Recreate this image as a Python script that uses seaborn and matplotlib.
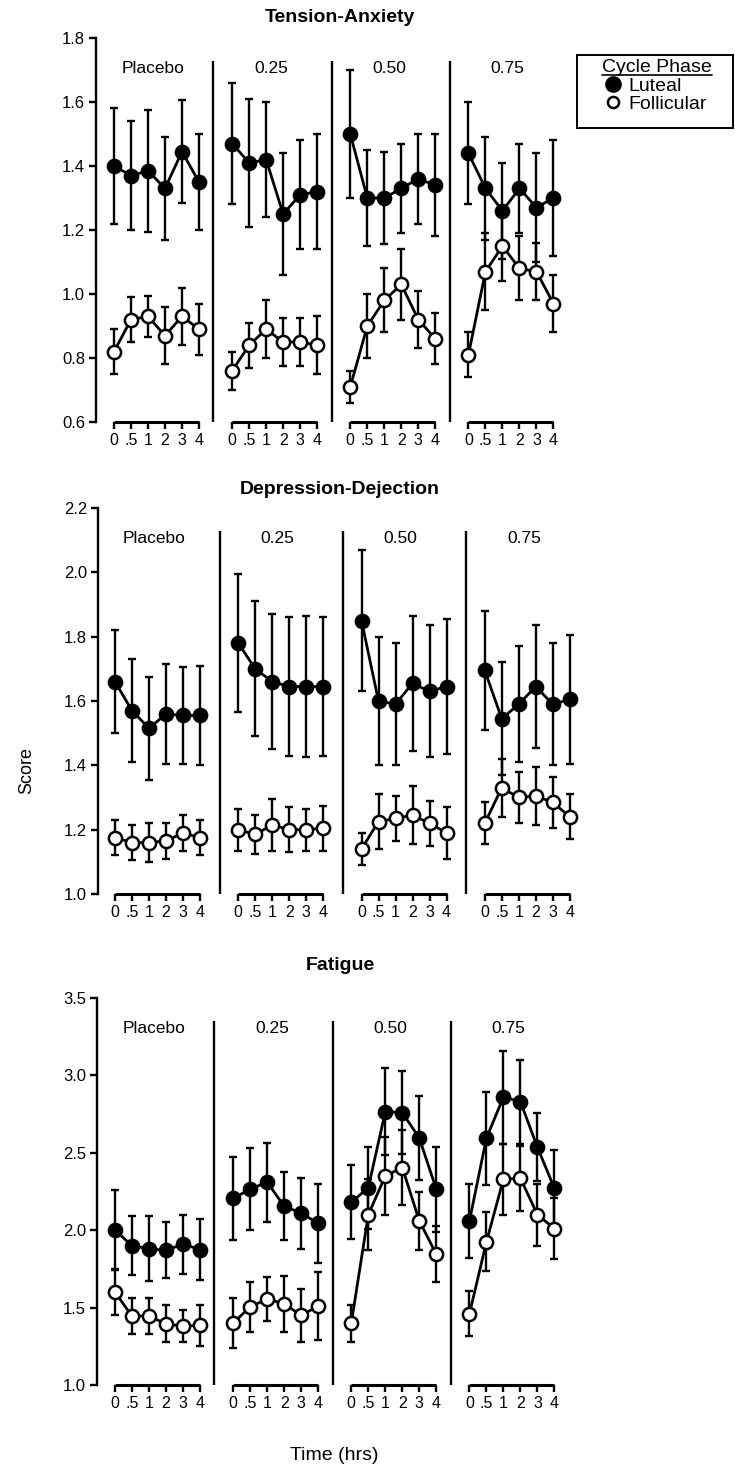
import matplotlib.pyplot as plt
import numpy as np
import pandas as pd
import seaborn as sns
from matplotlib.lines import Line2D
from matplotlib.patches import Rectangle

# time points after dosing (hrs) and dose conditions
time_labels = ["0", ".5", "1", "2", "3", "4"]
doses = ["Placebo", "0.25", "0.50", "0.75"]

# Tension-Anxiety
tension_luteal = [[1.40, 1.37, 1.385, 1.33, 1.445, 1.35],
                  [1.47, 1.41, 1.42, 1.25, 1.31, 1.32],
                  [1.50, 1.30, 1.30, 1.33, 1.36, 1.34],
                  [1.44, 1.33, 1.26, 1.33, 1.27, 1.30]]
tension_luteal_err = [[0.18, 0.17, 0.19, 0.16, 0.16, 0.15],
                      [0.19, 0.20, 0.18, 0.19, 0.17, 0.18],
                      [0.20, 0.15, 0.145, 0.14, 0.14, 0.16],
                      [0.16, 0.16, 0.15, 0.14, 0.17, 0.18]]
tension_follic = [[0.82, 0.92, 0.93, 0.87, 0.93, 0.89],
                  [0.76, 0.84, 0.89, 0.85, 0.85, 0.84],
                  [0.71, 0.90, 0.98, 1.03, 0.92, 0.86],
                  [0.81, 1.07, 1.15, 1.08, 1.07, 0.97]]
tension_follic_err = [[0.07, 0.07, 0.065, 0.09, 0.09, 0.08],
                      [0.06, 0.07, 0.09, 0.075, 0.075, 0.09],
                      [0.05, 0.10, 0.10, 0.11, 0.09, 0.08],
                      [0.07, 0.12, 0.11, 0.10, 0.09, 0.09]]

# Depression-Dejection
depress_luteal = [[1.66, 1.57, 1.515, 1.56, 1.555, 1.555],
                  [1.78, 1.70, 1.66, 1.645, 1.645, 1.645],
                  [1.85, 1.60, 1.59, 1.655, 1.63, 1.645],
                  [1.695, 1.545, 1.59, 1.645, 1.59, 1.605]]
depress_luteal_err = [[0.16, 0.16, 0.16, 0.155, 0.15, 0.155],
                      [0.215, 0.21, 0.21, 0.215, 0.22, 0.215],
                      [0.22, 0.20, 0.19, 0.21, 0.205, 0.21],
                      [0.185, 0.175, 0.18, 0.19, 0.19, 0.20]]
depress_follic = [[1.175, 1.16, 1.16, 1.165, 1.19, 1.175],
                  [1.20, 1.185, 1.215, 1.20, 1.20, 1.205],
                  [1.14, 1.225, 1.235, 1.245, 1.22, 1.19],
                  [1.22, 1.33, 1.30, 1.305, 1.285, 1.24]]
depress_follic_err = [[0.055, 0.055, 0.06, 0.055, 0.055, 0.055],
                      [0.065, 0.06, 0.08, 0.07, 0.065, 0.07],
                      [0.05, 0.085, 0.07, 0.09, 0.07, 0.08],
                      [0.065, 0.09, 0.08, 0.09, 0.08, 0.07]]

# Fatigue
fatigue_luteal = [[2.00, 1.90, 1.88, 1.87, 1.91, 1.875],
                  [2.205, 2.265, 2.31, 2.155, 2.11, 2.045],
                  [2.18, 2.275, 2.765, 2.76, 2.595, 2.265],
                  [2.06, 2.595, 2.86, 2.83, 2.535, 2.27]]
fatigue_luteal_err = [[0.26, 0.19, 0.21, 0.18, 0.19, 0.195],
                      [0.27, 0.265, 0.255, 0.22, 0.23, 0.255],
                      [0.24, 0.265, 0.28, 0.27, 0.27, 0.275],
                      [0.24, 0.30, 0.30, 0.27, 0.22, 0.25]]
fatigue_follic = [[1.60, 1.445, 1.445, 1.395, 1.38, 1.385],
                  [1.40, 1.505, 1.555, 1.525, 1.45, 1.51],
                  [1.40, 2.10, 2.35, 2.405, 2.06, 1.845],
                  [1.46, 1.925, 2.33, 2.335, 2.10, 2.01]]
fatigue_follic_err = [[0.15, 0.115, 0.115, 0.12, 0.105, 0.135],
                      [0.16, 0.16, 0.14, 0.18, 0.17, 0.22],
                      [0.12, 0.23, 0.25, 0.24, 0.19, 0.18],
                      [0.145, 0.19, 0.23, 0.21, 0.20, 0.195]]

W, H = 735, 1467
PX = 17.0  # pixels per time step

panels = [
    dict(title="Tension-Anxiety", lut=tension_luteal, lut_err=tension_luteal_err,
         fol=tension_follic, fol_err=tension_follic_err,
         box=(96, 38, 580, 422), first=114, gap=6.95, ylim=(0.6, 1.8), step=0.2, ty=17),
    dict(title="Depression-Dejection", lut=depress_luteal, lut_err=depress_luteal_err,
         fol=depress_follic, fol_err=depress_follic_err,
         box=(98, 508, 582, 894), first=115, gap=7.25, ylim=(1.0, 2.2), step=0.2, ty=490),
    dict(title="Fatigue", lut=fatigue_luteal, lut_err=fatigue_luteal_err,
         fol=fatigue_follic, fol_err=fatigue_follic_err,
         box=(97, 998, 581, 1385), first=115, gap=6.95, ylim=(1.0, 3.5), step=0.5, ty=965),
]


def build_frame(p):
    rows = []
    for phase, vals, errs in [("Luteal", p["lut"], p["lut_err"]),
                              ("Follicular", p["fol"], p["fol_err"])]:
        for g, dose in enumerate(doses):
            for i, t in enumerate(time_labels):
                rows.append(dict(phase=phase, dose=dose, time=t,
                                 x=g * p["gap"] + i, score=vals[g][i], err=errs[g][i]))
    return pd.DataFrame(rows)


sns.set_style("ticks")
plt.rcParams["font.family"] = ["Liberation Sans", "DejaVu Sans"]
plt.rcParams["text.color"] = "k"
plt.rcParams["xtick.color"] = "k"
plt.rcParams["ytick.color"] = "k"
plt.rcParams["axes.labelcolor"] = "k"

fig = plt.figure(figsize=(W / 100, H / 100), dpi=100)

for p in panels:
    l, t, r, b = p["box"]
    ax = fig.add_axes([l / W, 1 - b / H, (r - l) / W, (b - t) / H])
    df = build_frame(p)
    y0, y1 = p["ylim"]

    z = 2
    for phase, face in [("Luteal", "k"), ("Follicular", "w")]:
        sub = df[df["phase"] == phase]
        ax.errorbar(sub["x"], sub["score"], yerr=sub["err"], fmt="none", ecolor="k",
                    elinewidth=1.7, capsize=3, capthick=1.7, zorder=z)
        sns.lineplot(data=sub, x="x", y="score", units="dose", estimator=None, sort=False,
                     color="k", lw=2.0, marker="o", markersize=9.5, markerfacecolor=face,
                     markeredgecolor="k", markeredgewidth=1.8, legend=False, ax=ax, zorder=z + 1)
        z += 2

    xl = -(p["first"] - l) / PX
    ax.set_xlim(xl, xl + (r - l) / PX)
    ax.set_ylim(y0, y1)
    ax.set_xlabel("")
    ax.set_ylabel("")

    lut = df[df["phase"] == "Luteal"]
    ax.set_xticks(lut["x"])
    ax.set_xticklabels(lut["time"])
    yt = np.arange(y0, y1 + 1e-6, p["step"])
    ax.set_yticks(yt)
    ax.set_yticklabels([f"{v:.1f}" for v in yt])
    ax.tick_params(axis="x", length=5, width=1.7, pad=3, labelsize=11.5)
    ax.tick_params(axis="y", length=5, width=1.7, pad=3, labelsize=12)

    for s in ["top", "right", "bottom"]:
        ax.spines[s].set_visible(False)
    ax.spines["left"].set_linewidth(1.7)
    ax.spines["left"].set_color("k")

    for g, dose in enumerate(doses):
        x0 = g * p["gap"]
        ax.hlines(y0, x0, x0 + 5, color="k", lw=2.2, clip_on=False)
        ax.text(x0 + 2.3, y0 + 0.92 * (y1 - y0), dose, ha="center", va="center", fontsize=12.5)
        if g > 0:
            ax.vlines(x0 - 1.1, y0, y0 + 0.94 * (y1 - y0), color="k", lw=1.7)

    fig.text(340 / W, 1 - p["ty"] / H, p["title"], ha="center", va="center",
             fontsize=14, fontweight="bold")

fig.text(27 / W, 1 - 770 / H, "Score", rotation=90, ha="center", va="center", fontsize=13)
fig.text(334 / W, 1 - 1455 / H, "Time (hrs)", ha="center", va="center", fontsize=14)

# legend box
fig.patches.append(Rectangle((577 / W, 1 - 128 / H), 156 / W, 73 / H, transform=fig.transFigure,
                             fill=False, edgecolor="k", lw=1.4))
handles = [Line2D([], [], ls="none", marker="o", color="k", markersize=11, markerfacecolor="k"),
           Line2D([], [], ls="none", marker="o", color="k", markersize=8, markerfacecolor="w",
                  markeredgewidth=1.8)]
leg = fig.legend(handles, ["Luteal", "Follicular"], title="Cycle Phase", loc="upper center",
                 bbox_to_anchor=(657 / W, 1 - 57 / H), frameon=False, fontsize=14,
                 title_fontsize=14, handlelength=0.6, handletextpad=0.5, labelspacing=0.05,
                 borderpad=0.1, borderaxespad=0)
fig.canvas.draw()
bb = leg.get_title().get_window_extent()
fig.add_artist(Line2D([bb.x0 / W, bb.x1 / W], [(bb.y0 + 1) / H, (bb.y0 + 1) / H],
                      transform=fig.transFigure, color="k", lw=1.2))

fig.savefig("out.png", dpi=100)
